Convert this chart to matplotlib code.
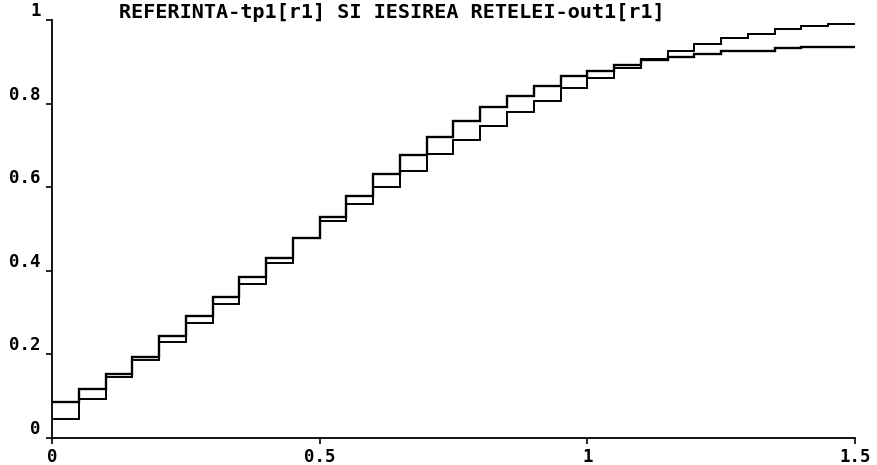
import numpy as np
import matplotlib
matplotlib.use("Agg")
import matplotlib.pyplot as plt

# Sample grid: 30 steps of 0.05 on [0, 1.5]
t_edges = np.round(np.arange(31) * 0.05, 2)

# Reference signal tp1[r1] (held value on each interval)
tp1 = [0.045, 0.093, 0.147, 0.187, 0.230, 0.275, 0.321, 0.368, 0.419, 0.478,
       0.518, 0.560, 0.600, 0.639, 0.679, 0.713, 0.746, 0.779, 0.807, 0.837,
       0.861, 0.884, 0.907, 0.926, 0.943, 0.956, 0.967, 0.978, 0.986, 0.991]

# Network output out1[r1]
out1 = [0.087, 0.117, 0.153, 0.193, 0.244, 0.292, 0.338, 0.386, 0.430, 0.478,
        0.528, 0.580, 0.631, 0.677, 0.721, 0.758, 0.792, 0.819, 0.843, 0.866,
        0.879, 0.892, 0.904, 0.911, 0.918, 0.925, 0.927, 0.932, 0.936, 0.935]

x_ticks = [0, 0.5, 1, 1.5]
x_labels = ["0", "0.5", "1", "1.5"]
y_ticks = [0, 0.2, 0.4, 0.6, 0.8, 1.0]
y_labels = ["0", "0.2", "0.4", "0.6", "0.8", "1"]

title = "REFERINTA-tp1[r1] SI IESIREA RETELEI-out1[r1]"

W, H = 877, 465
fig = plt.figure(figsize=(W / 100, H / 100), dpi=100)
fig.patch.set_facecolor("white")

left, right, bottom, top = 52, 855, 438, 20
ax = fig.add_axes([left / W, 1 - bottom / H, (right - left) / W, (bottom - top) / H])

ax.stairs(tp1, t_edges, baseline=None, color="black", linewidth=1.4)
ax.stairs(out1, t_edges, baseline=None, color="black", linewidth=1.7)

ax.set_xlim(0, 1.5)
ax.set_ylim(0, 1)

for side in ("top", "right"):
    ax.spines[side].set_visible(False)
for side in ("left", "bottom"):
    ax.spines[side].set_linewidth(1.3)
    ax.spines[side].set_color("black")

font = dict(family="DejaVu Sans Mono", weight="bold", size=12.5)
ax.set_xticks(x_ticks)
ax.set_xticklabels(x_labels, fontdict=font)
ax.set_yticks(y_ticks)
ax.set_yticklabels(y_labels, fontdict=font)
ax.tick_params(axis="both", direction="out", length=4, width=1.2, colors="black")
ax.tick_params(axis="y", pad=4)
ax.tick_params(axis="x", pad=3)
for lab in ax.get_yticklabels():
    lab.set_verticalalignment("bottom")

fig.text(392 / W, 1 - 13 / H, title, ha="center", va="center",
         family="DejaVu Sans Mono", weight="bold", fontsize=14.5)

fig.savefig("out.png", dpi=100, facecolor="white")
